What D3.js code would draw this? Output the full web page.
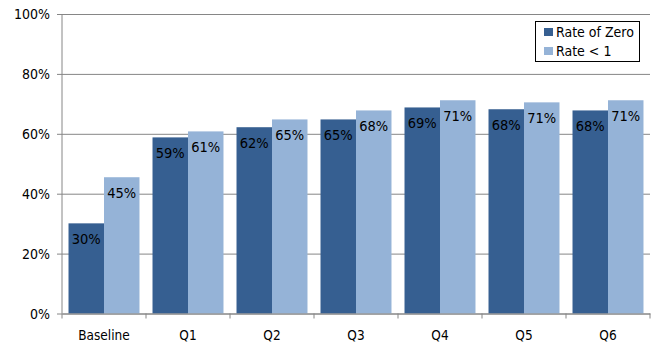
<!DOCTYPE html>
<html>
<head>
<meta charset="utf-8">
<script src="https://cdn.jsdelivr.net/npm/d3@7"></script>
<style>
  body { margin: 0; background: #fff; }
  svg text { font-family: "DejaVu Sans Condensed", "DejaVu Sans", sans-serif; fill: #000; }
</style>
</head>
<body>
<svg id="chart"></svg>
<script>
var categories = ['Baseline', 'Q1', 'Q2', 'Q3', 'Q4', 'Q5', 'Q6'];
var seriesNames = ['Rate of Zero', 'Rate < 1'];
var rateZero = [30.1, 58.8, 62.2, 64.8, 68.8, 68.2, 67.8];
var rateLess1 = [45.5, 60.8, 64.8, 67.8, 71.2, 70.5, 71.2];
var rateZeroLabels = ['30%', '59%', '62%', '65%', '69%', '68%', '68%'];
var rateLess1Labels = ['45%', '61%', '65%', '68%', '71%', '71%', '71%'];
var yTicks = [0, 20, 40, 60, 80, 100];
var colors = ['#365f91', '#95b3d7'];

var margins = {top: 14, bottom: 37.5, left: 62, right: 17};
var width = 667 - margins.left - margins.right;
var height = 351 - margins.top - margins.bottom;

var rows = categories.map((c, i) => ({
  cat: c,
  vals: [
    {s: 0, v: rateZero[i], lab: rateZeroLabels[i]},
    {s: 1, v: rateLess1[i], lab: rateLess1Labels[i]}
  ]
}));

var svg = d3.select('#chart')
  .attr('width', 667)
  .attr('height', 351)
  .append('g')
  .attr('transform', `translate(${margins.left}, ${margins.top})`);

var xScale = d3.scaleBand().domain(categories).range([0, width]).paddingInner(0.155).paddingOuter(0.0775);
var xOuter = d3.scaleBand().domain(categories).range([0, width]);
var x1 = d3.scaleBand().domain([0, 1]).range([0, xScale.bandwidth()]);
var yScale = d3.scaleLinear().domain([0, 100]).range([height, 0]);

// gridlines + y axis
var yAxis = svg.append('g')
  .call(d3.axisLeft(yScale).tickValues(yTicks).tickSize(-width).tickFormat(d => d + '%'));
yAxis.select('.domain').remove();
yAxis.selectAll('.tick line').attr('stroke', '#868686').attr('x1', -5);
yAxis.selectAll('.tick text').attr('x', -12).attr('dy', '0.35em').style('font-size', '14px');

svg.append('line')
  .attr('x1', 0).attr('x2', 0).attr('y1', 0).attr('y2', height)
  .attr('stroke', '#868686');

// bars
var groups = svg.selectAll('g.grp')
  .data(rows)
  .enter()
  .append('g')
  .attr('class', 'grp')
  .attr('transform', d => `translate(${xScale(d.cat)}, 0)`);

groups.selectAll('rect')
  .data(d => d.vals)
  .enter()
  .append('rect')
  .attr('x', d => x1(d.s))
  .attr('width', x1.bandwidth())
  .attr('y', d => yScale(d.v))
  .attr('height', d => height - yScale(d.v))
  .style('fill', d => colors[d.s]);

groups.selectAll('text')
  .data(d => d.vals)
  .enter()
  .append('text')
  .attr('x', d => x1(d.s) + x1.bandwidth() / 2)
  .attr('y', d => yScale(d.v) + 21)
  .attr('text-anchor', 'middle')
  .style('font-size', '14.5px')
  .text(d => d.lab);

// x axis
var xAxis = svg.append('g')
  .attr('transform', `translate(0, ${height})`)
  .call(d3.axisBottom(xOuter).tickSize(0).tickSizeOuter(0));
xAxis.select('.domain').attr('stroke', '#868686');
xAxis.selectAll('.tick text').attr('y', 16.5).attr('dy', '0.71em').style('font-size', '13.5px');
xAxis.selectAll('line.sep')
  .data(d3.range(categories.length + 1))
  .enter()
  .append('line')
  .attr('class', 'sep')
  .attr('x1', i => i * xOuter.step())
  .attr('x2', i => i * xOuter.step())
  .attr('y1', 0)
  .attr('y2', 5)
  .attr('stroke', '#868686');

// legend
var legend = svg.append('g')
  .attr('transform', `translate(${535 - margins.left}, ${21 - margins.top})`);
legend.append('rect')
  .attr('x', 0.5).attr('y', 0.5)
  .attr('width', 104).attr('height', 40)
  .style('fill', '#fff')
  .style('stroke', '#000');
seriesNames.forEach((n, i) => {
  legend.append('rect')
    .attr('x', 9).attr('y', 7 + i * 19)
    .attr('width', 9).attr('height', 8)
    .style('fill', colors[i]);
  legend.append('text')
    .attr('x', 21).attr('y', 15.5 + i * 19)
    .style('font-size', '14px')
    .text(n);
});
</script>
</body>
</html>
